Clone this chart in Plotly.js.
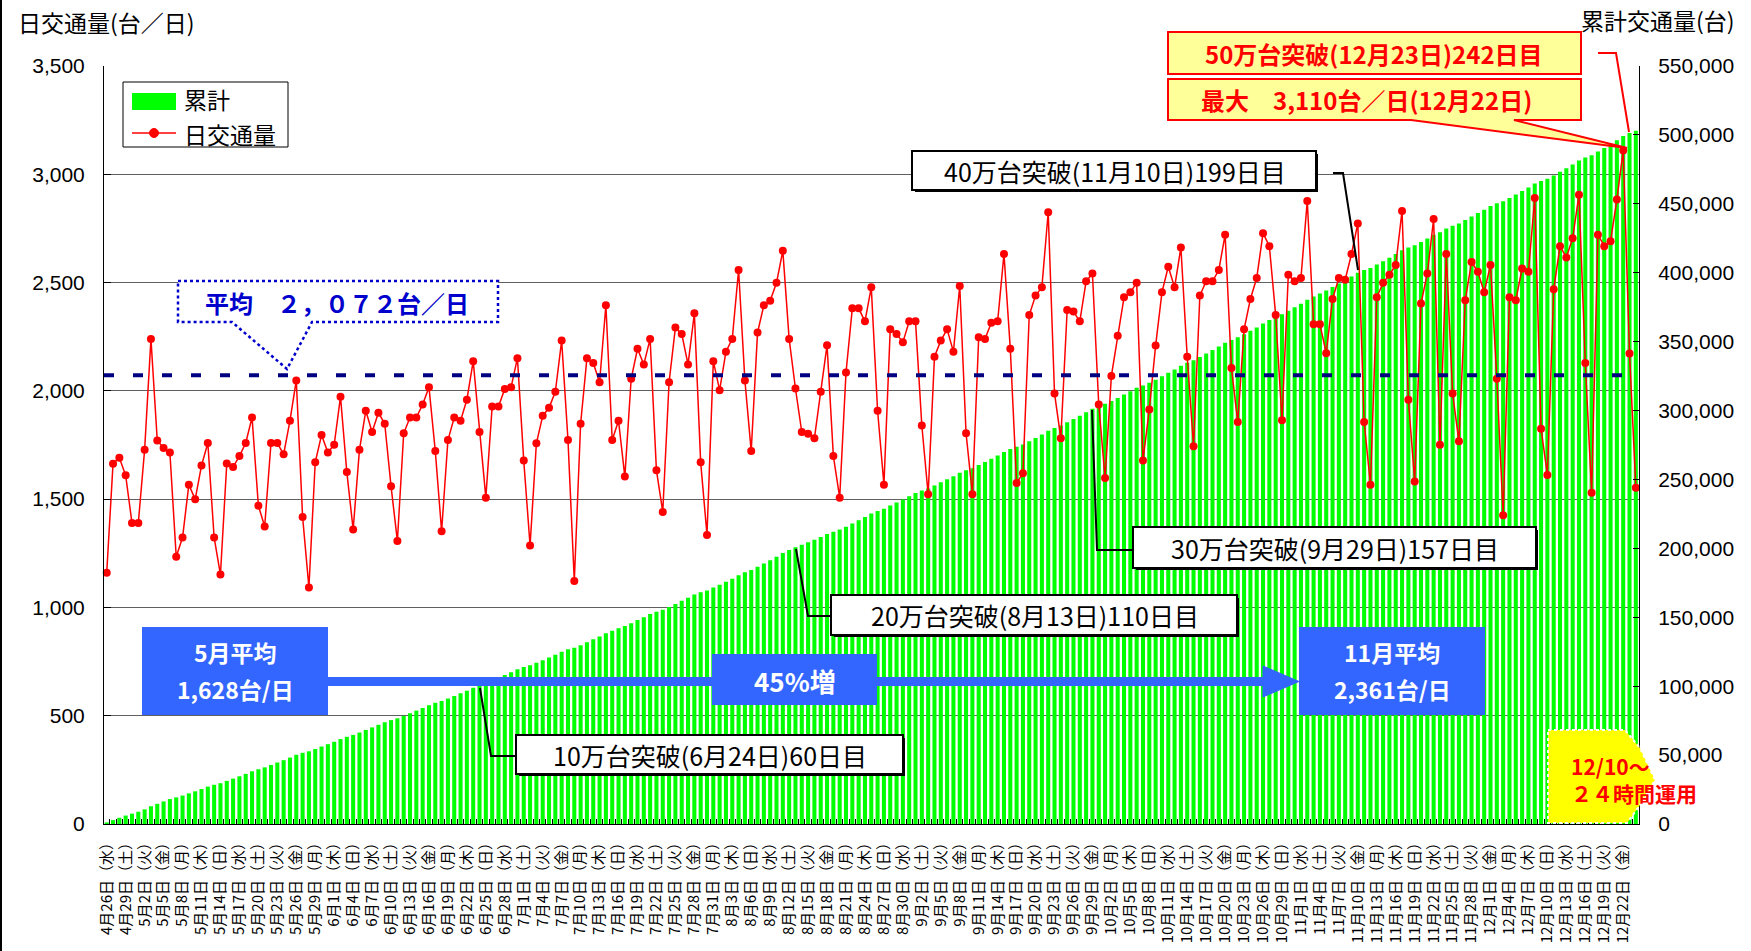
<!DOCTYPE html>
<html><head><meta charset="utf-8">
<script src="https://cdn.plot.ly/plotly-3.0.1.min.js"></script>
<style>html,body{margin:0;padding:0;background:#fff}#chart{width:1751px;height:951px}</style>
</head><body><div id="chart"></div>
<script>
// ---- data ----
const START_DATE = [2017, 4, 26];
const DAY_NAMES = ['日','月','火','水','木','金','土'];
const TICK_EVERY = 3;
const dailyTraffic = [
 1160,1664,1691,1610,1390,1390,1728,2240,1771,1736,
 1715,1234,1323,1567,1499,1655,1759,1323,1152,1665,
 1648,1699,1759,1877,1470,1374,1759,1759,1707,1862,
 2048,1418,1092,1670,1796,1715,1751,1973,1625,1360,
 1728,1908,1810,1899,1848,1559,1307,1804,1877,1877,
 1937,2017,1722,1352,1773,1877,1862,1959,2137,1810,
 1507,1928,1928,2009,2017,2151,1678,1286,1758,1885,
 1922,1996,2232,1773,1122,1848,2151,2129,2040,2395,
 1773,1862,1604,2056,2194,2122,2240,1633,1441,2040,
 2292,2263,2122,2358,1670,1335,2137,2003,2181,2240,
 2558,2048,1722,2269,2395,2416,2499,2647,2240,2011,
 1810,1802,1781,1996,2211,1699,1507,2085,2381,2381,
 2321,2478,1908,1567,2284,2263,2224,2321,2321,1840,
 1523,2158,2232,2284,2181,2484,1804,1523,2248,2240,
 2314,2321,2632,2195,1575,1619,2350,2440,2478,2825,
 1988,1781,2373,2366,2321,2506,2542,1937,1598,2069,
 2254,2432,2455,2499,1678,1914,2209,2455,2573,2478,
 2662,2158,1744,2440,2506,2506,2558,2721,2106,1856,
 2284,2424,2521,2728,2668,2350,1864,2536,2506,2521,
 2877,2307,2307,2174,2424,2521,2513,2632,2773,1856,
 1567,2432,2499,2536,2581,2831,1959,1582,2403,2542,
 2794,1751,2632,1988,1767,2418,2595,2550,2455,2581,
 2056,1426,2432,2418,2565,2550,2891,1825,1612,2469,
 2668,2616,2705,2905,2129,1530,2721,2668,2691,2883,
 3110,2172,1553
];
const AVERAGE_DAILY = 2072;
const MAX_DAILY = 3110;
const MAY_AVERAGE = '1,628';
const NOV_AVERAGE = '2,361';
const INCREASE = '45%増';
const legendNames = ['累計', '日交通量'];
const milestones = {
  m10: '10万台突破(6月24日)60日目',
  m20: '20万台突破(8月13日)110日目',
  m30: '30万台突破(9月29日)157日目',
  m40: '40万台突破(11月10日)199日目',
  m50: '50万台突破(12月23日)242日目'
};

// ---- derived ----
const categories = dailyTraffic.map((_, i) => {
  const d = new Date(START_DATE[0], START_DATE[1] - 1, START_DATE[2] + i);
  return (d.getMonth() + 1) + '月' + d.getDate() + '日（' + DAY_NAMES[d.getDay()] + '）';
});
const tickText = categories.map((c, i) => (i % TICK_EVERY === 0 ? c : ''));
const cumulative = [];
let run = 0;
for (const v of dailyTraffic) { run += v; cumulative.push(run); }

// ---- geometry helpers (pixels -> paper) ----
const L = 104, R = 1639, T = 66, B = 824;
const px = x => (x - L) / (R - L);
const py = y => (B - y) / (B - T);
const P = (pts, close) => pts.map((p, i) => (i ? 'L' : 'M') + px(p[0]).toFixed(5) + ',' + py(p[1]).toFixed(5)).join(' ') + (close ? ' Z' : '');
const JP = 'Noto Sans CJK JP, sans-serif';

const shapes = [];
const annotations = [];
function rect(x0, y0, x1, y1, fill, lc, lw, dash) {
  shapes.push({type: 'rect', xref: 'paper', yref: 'paper', x0: px(x0), x1: px(x1), y0: py(y1), y1: py(y0),
    fillcolor: fill, line: {color: lc || 'rgba(0,0,0,0)', width: lw || 0, dash: dash || 'solid'}, layer: 'above'});
}
function path(pts, close, fill, lc, lw, dash) {
  shapes.push({type: 'path', xref: 'paper', yref: 'paper', path: P(pts, close),
    fillcolor: fill || 'rgba(0,0,0,0)', line: {color: lc, width: lw, dash: dash || 'solid'}, layer: 'above'});
}
function box(x0, y0, x1, y1) {
  rect(x0 + 3, y0 + 3, x1 + 2, y1 + 2, '#000');
  rect(x0, y0, x1, y1, '#fff', '#000', 2);
}
function text(t, x, y, size, color, bold, anchor, align) {
  annotations.push({xref: 'paper', yref: 'paper', x: px(x), y: py(y), text: bold ? '<b>' + t + '</b>' : t,
    showarrow: false, xanchor: anchor || 'center', yanchor: 'middle', align: align || 'center', borderpad: 0,
    font: {family: JP, size: size, color: color || '#000'}});
}

// average line
shapes.push({type: 'line', xref: 'paper', x0: 0, x1: 1, yref: 'y2', y0: AVERAGE_DAILY, y1: AVERAGE_DAILY,
  line: {color: '#000080', width: 4, dash: '10px,19px'}, layer: 'above'});

// average callout
path([[178,281],[498,281],[498,322],[312,322],[287,369],[232,322],[178,322]], true, '#fff', '#0000CC', 2.5, 'dot');
text('平均　' + '２，０７２' + '台／日', 337, 302, 24, '#0000CC', true);

// milestone boxes and leaders
box(912, 151, 1316, 190); text(milestones.m40, 1115, 171, 25);
path([[1333,173],[1343,173],[1358,270]], false, null, '#000', 2);
box(1133, 527, 1536, 568); text(milestones.m30, 1335, 548, 25);
path([[1092,410],[1097,550],[1133,550]], false, null, '#000', 2);
box(831, 595, 1237, 635); text(milestones.m20, 1035, 615, 25);
path([[796,549],[808,616],[831,616]], false, null, '#000', 2);
box(516, 735, 903, 774); text(milestones.m10, 710, 755, 25);
path([[480,688],[491,756],[516,756]], false, null, '#000', 2);

// 50万 & max (red)
rect(1168, 32, 1581, 74, '#FFFF99', '#FF0000', 2);
text(milestones.m50, 1374, 53, 24, '#FF0000', true);
path([[1598,53],[1616,53],[1629,132]], false, null, '#FF0000', 2);
path([[1168,79],[1581,79],[1581,120],[1514,120],[1627,148],[1411,120],[1168,120]], true, '#FFFF99', '#FF0000', 2);
text('最大　' + MAX_DAILY.toLocaleString('en-US') + '台／日(12月22日)', 1366, 100, 24, '#FF0000', true);

// blue average comparison
rect(328, 677, 1266, 686, '#3366FF');
path([[1263,666],[1299,681.5],[1263,697]], true, '#3366FF', '#3366FF', 1);
rect(142, 627, 328, 715, '#3366FF');
rect(712, 654, 877, 705, '#3366FF');
rect(1299, 627, 1485, 715, '#3366FF');
text('5月平均', 235, 652, 23, '#fff', true);
text(MAY_AVERAGE + '台/日', 235, 689, 23, '#fff', true);
text(INCREASE, 795, 680, 26, '#fff', true);
text('11月平均', 1392, 652, 23, '#fff', true);
text(NOV_AVERAGE + '台/日', 1392, 689, 23, '#fff', true);

// 24h operation badge
path([[1548,730],[1625,730],[1640,748],[1655,780],[1640,805],[1627,823],[1548,823]], true, '#FFFF00', '#fff', 2, 'dot');
text('12/10～<br>２４時間運用', 1570, 779, 21, '#FF0000', true, 'left', 'left');

// custom legend
rect(123, 82, 288, 147, '#fff', '#000', 1);
rect(132, 93, 176, 110, '#00FF00');
path([[132,133],[176,133]], false, null, '#FF0000', 1.5);
shapes.push({type: 'circle', xref: 'paper', yref: 'paper', x0: px(149.5), x1: px(158.5), y0: py(137.5), y1: py(128.5),
  fillcolor: '#FF0000', line: {color: '#FF0000', width: 1}, layer: 'above'});
text(legendNames[0], 183, 99, 23, '#000', false, 'left');
text(legendNames[1], 183, 134, 23, '#000', false, 'left');

// axis titles
text('日交通量(台／日)', 17, 22, 23, '#000', false, 'left');
text('累計交通量(台)', 1580, 20, 23, '#000', false, 'left');

// outer left border
shapes.push({type: 'line', xref: 'paper', yref: 'paper', x0: px(1), x1: px(1), y0: py(0), y1: py(951), line: {color: '#000', width: 2}, layer: 'above'});

const numFont = {family: 'Liberation Sans, Arial, sans-serif', size: 21, color: '#000'};
const traces = [
  {type: 'bar', name: legendNames[0], x: categories, y: cumulative, yaxis: 'y',
   marker: {color: '#00FF00', line: {width: 0}}, hoverinfo: 'skip'},
  {type: 'scatter', mode: 'lines+markers', name: legendNames[1], x: categories, y: dailyTraffic, yaxis: 'y2',
   line: {color: '#FF0000', width: 1.5}, marker: {color: '#FF0000', size: 8}, cliponaxis: false, hoverinfo: 'skip'}
];
const layout = {
  width: 1751, height: 951, margin: {l: L, r: 1751 - R, t: T, b: 951 - B},
  paper_bgcolor: '#fff', plot_bgcolor: '#fff', showlegend: false, bargap: 0.36,
  xaxis: {type: 'category', range: [-0.43, 242.5], tickmode: 'array', tickvals: categories, ticktext: tickText,
    tickangle: -90, tickfont: {family: JP, size: 15, color: '#000'}, ticks: 'inside', ticklen: 5, tickcolor: '#000',
    tickson: 'boundaries', showline: true, linecolor: '#000', linewidth: 1, showgrid: false, zeroline: false,
    ticklabelstandoff: 4, fixedrange: true},
  yaxis: {range: [0, 550000], tick0: 0, dtick: 50000, side: 'right', showgrid: false, zeroline: false,
    showline: true, linecolor: '#000', linewidth: 1, ticks: 'inside', ticklen: 6, tickcolor: '#000',
    tickformat: ',d', tickfont: numFont, ticklabelstandoff: 14, fixedrange: true},
  yaxis2: {range: [0, 3500], tick0: 0, dtick: 500, side: 'left', overlaying: 'y', showgrid: true,
    gridcolor: '#606060', gridwidth: 1, zeroline: false, showline: true, linecolor: '#000', linewidth: 1,
    ticks: 'inside', ticklen: 7, tickcolor: '#000', tickformat: ',d', tickfont: numFont,
    ticklabelstandoff: 14, fixedrange: true},
  shapes: shapes, annotations: annotations
};
Plotly.newPlot('chart', traces, layout, {displayModeBar: false, staticPlot: true});
</script>
</body></html>
